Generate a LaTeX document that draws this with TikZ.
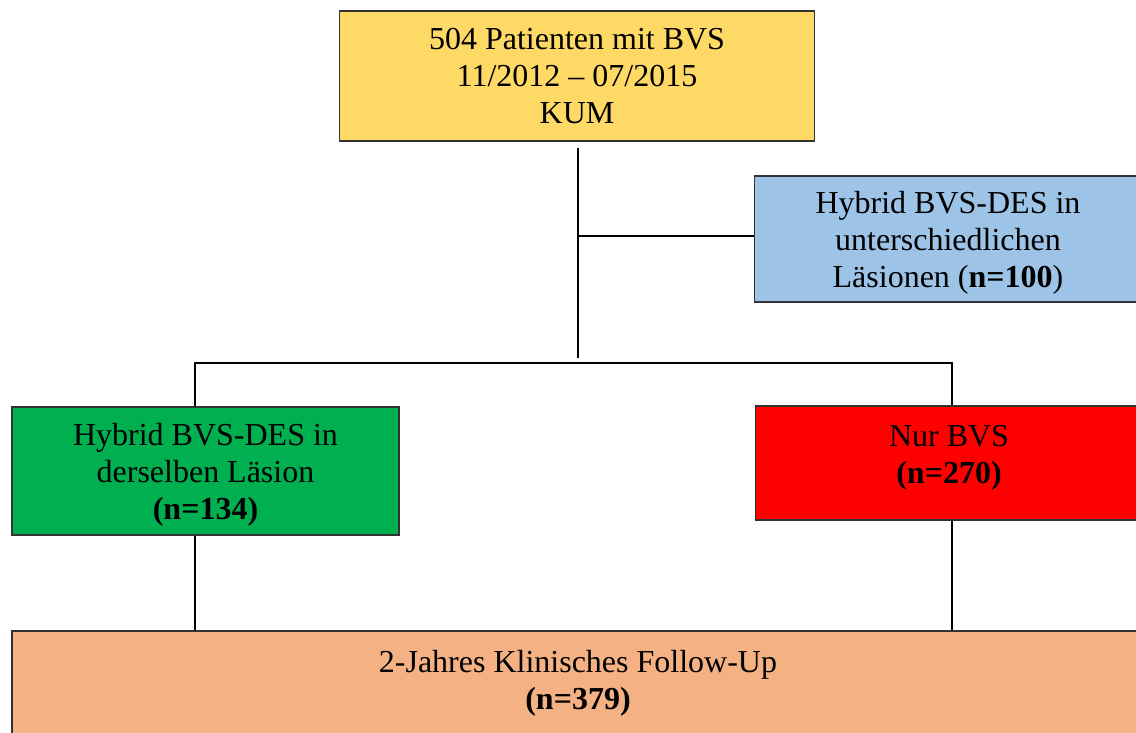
\documentclass[tikz,border=0pt]{standalone}
\usepackage{fontspec}
\setmainfont{Liberation Serif}
\usetikzlibrary{positioning, calc}
\definecolor{kumgelb}{RGB}{255, 217, 102}
\definecolor{kumblau}{RGB}{157, 195, 230}
\definecolor{kumgruen}{RGB}{0, 176, 80}
\definecolor{kumrot}{RGB}{255, 0, 0}
\definecolor{kumorange}{RGB}{244, 177, 131}

\begin{document}
\begin{tikzpicture}[
        x=0.5pt, y=-0.5pt,
        kasten/.style={
            rectangle,
            draw=black!80,
            line width=0.75pt,
            inner sep=0pt,
            align=center,
            font=\fontsize{16}{18.5}\selectfont
        },
        start/.style={
            kasten,
            fill=kumgelb,
            minimum width=237.5pt,
            minimum height=65pt,
            text depth=-4pt
        },
        gruppe/.style={
            kasten,
            minimum width=193.5pt,
            minimum height=63pt
        },
        ziel/.style={
            kasten,
            fill=kumorange,
            minimum width=566pt,
            minimum height=65pt,
            text depth=16.5pt
        },
        linie/.style={
            draw=black,
            line width=0.75pt
        }
    ]
        \clip (0,0) rectangle (1136,733);

        \node[start] (patienten) at (577,76) {504 Patienten mit BVS\\11/2012 -- 07/2015\\KUM};
        \node[gruppe, fill=kumblau, text depth=-4.5pt] (unterschiedlich) at (948,239) {Hybrid BVS-DES in\\unterschiedlichen\\Läsionen (\textbf{n=100})};
        \node[gruppe, fill=kumgruen, minimum height=64pt, text depth=-2.5pt] (derselben) at (205.5,471) {Hybrid BVS-DES in\\derselben Läsion\\\textbf{(n=134)}};
        \node[gruppe, fill=kumrot, minimum height=57pt, text depth=8.5pt] (nurbvs) at (949,463) {Nur BVS\\\textbf{(n=270)}};
        \node[ziel] (followup) at (578,696) {2-Jahres Klinisches Follow-Up\\\textbf{(n=379)}};

        \coordinate (stamm) at (578,358);
        \coordinate (abzweig) at (578,236);
        \coordinate (links) at (195,363);
        \coordinate (rechts) at (952,363);

        \draw[linie, shorten <=3pt] (patienten.south -| stamm) -- (stamm);
        \draw[linie] (abzweig) -- (abzweig -| unterschiedlich.west);
        \draw[linie] (links |- derselben.north) -- (links) -- (rechts) -- (rechts |- nurbvs.north);
        \draw[linie] (links |- derselben.south) -- (links |- followup.north);
        \draw[linie] (rechts |- nurbvs.south) -- (rechts |- followup.north);
    \end{tikzpicture}
\end{document}
